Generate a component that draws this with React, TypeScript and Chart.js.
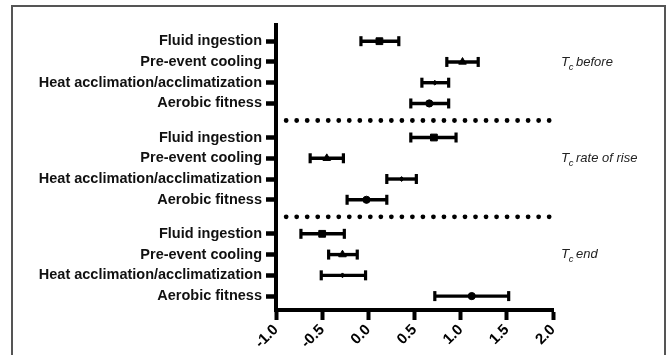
import React, { useEffect, useRef } from "react";
import { Chart, registerables } from "chart.js";

Chart.register(...registerables);

// ---- data ----
const factors = ["Fluid ingestion", "Pre-event cooling", "Heat acclimation/acclimatization", "Aerobic fitness"];
const groupNames = ["before", "rate of rise", "end"];

const meanBefore = [0.12, 1.02, 0.72, 0.66];
const lowBefore = [-0.08, 0.85, 0.58, 0.46];
const highBefore = [0.33, 1.19, 0.87, 0.87];

const meanRise = [0.71, -0.45, 0.36, -0.02];
const lowRise = [0.46, -0.63, 0.2, -0.23];
const highRise = [0.95, -0.27, 0.52, 0.2];

const meanEnd = [-0.5, -0.28, -0.28, 1.12];
const lowEnd = [-0.73, -0.43, -0.51, 0.72];
const highEnd = [-0.26, -0.12, -0.03, 1.52];

const xTicks = [-1.0, -0.5, 0.0, 0.5, 1.0, 1.5, 2.0];

// ---- layout helpers (not data) ----
const GROUP_STEP = 4.64;
const rowPos = (g: number, r: number) => g * GROUP_STEP + r;
const markerStyles = ["rect", "triangle", "rectRot", "circle"];
const markerRadius = [4.8, 4.4, 2.4, 3.6];
const FONT = "'Liberation Sans', Arial, sans-serif";

const means = [meanBefore, meanRise, meanEnd];
const lows = [lowBefore, lowRise, lowEnd];
const highs = [highBefore, highRise, highEnd];

export default function App() {
  const ref = useRef<HTMLCanvasElement | null>(null);

  useEffect(() => {
    if (!ref.current) return;
    const datasets: any[] = [];
    const tickVals: number[] = [];
    const tickLabels = new Map<number, string>();

    means.forEach((m, g) => {
      m.forEach((v, r) => {
        const y = rowPos(g, r);
        tickVals.push(y);
        tickLabels.set(Number(y.toFixed(3)), factors[r]);
        datasets.push({
          type: "line",
          data: [
            { x: lows[g][r], y },
            { x: highs[g][r], y },
          ],
          borderColor: "#000",
          backgroundColor: "#000",
          borderWidth: 3.4,
          pointStyle: "line",
          rotation: 90,
          pointRadius: 5,
          pointBorderWidth: 3.2,
          pointBorderColor: "#000",
          showLine: true,
        });
        datasets.push({
          type: "scatter",
          data: [{ x: v, y }],
          pointStyle: markerStyles[r],
          pointRadius: markerRadius[r],
          backgroundColor: "#000",
          borderColor: "#000",
          pointBorderWidth: 1,
        });
      });
    });

    // dotted separators between groups
    [0, 1].forEach((g) => {
      const y = (rowPos(g, 3) + rowPos(g + 1, 0)) / 2;
      datasets.push({
        type: "line",
        data: [
          { x: -0.89, y },
          { x: 1.97, y },
        ],
        borderColor: "#000",
        borderWidth: 4.8,
        borderDash: [0, 10.52],
        borderCapStyle: "round",
        pointRadius: 0,
        showLine: true,
      });
    });

    const sideLabels = {
      id: "sideLabels",
      beforeDraw(chart: any) {
        const ctx = chart.ctx;
        ctx.save();
        ctx.strokeStyle = "#555";
        ctx.lineWidth = 2;
        ctx.strokeRect(12, 6, 653, 400);
        ctx.restore();
      },
      afterDraw(chart: any) {
        const ctx = chart.ctx;
        const ys = chart.scales.y;
        ctx.save();
        ctx.fillStyle = "#222";
        ctx.textBaseline = "middle";
        groupNames.forEach((name, g) => {
          const y = ys.getPixelForValue(rowPos(g, 1));
          let x = 561;
          ctx.font = `italic 13.5px ${FONT}`;
          ctx.fillText("T", x, y);
          x += ctx.measureText("T").width - 0.5;
          ctx.font = `italic 9.5px ${FONT}`;
          ctx.fillText("c", x, y + 5);
          x += ctx.measureText("c").width + 2.5;
          ctx.font = `italic 13px ${FONT}`;
          ctx.fillText(name, x, y);
        });
        ctx.restore();
      },
    };

    const chart = new Chart(ref.current, {
      type: "scatter",
      data: { datasets },
      plugins: [sideLabels],
      options: {
        animation: false,
        responsive: false,
        maintainAspectRatio: false,
        layout: { padding: { top: 25, right: 114, left: 0, bottom: 0 } },
        plugins: { legend: { display: false }, tooltip: { enabled: false } },
        scales: {
          x: {
            type: "linear",
            min: -1,
            max: 2,
            afterBuildTicks: (s: any) => {
              s.ticks = xTicks.map((v) => ({ value: v }));
            },
            afterFit: (s: any) => {
              s.height = 45;
            },
            ticks: {
              callback: (v: any) => Number(v).toFixed(1),
              maxRotation: 45,
              minRotation: 45,
              color: "#000",
              font: { family: FONT, size: 15, weight: "bold" },
              padding: 1,
            },
            grid: { drawOnChartArea: false, drawTicks: true, tickLength: 10, tickWidth: 4, tickColor: "#000" },
            border: { display: true, width: 4, color: "#000" },
          },
          y: {
            type: "linear",
            reverse: true,
            min: -0.78,
            max: 12.95,
            afterBuildTicks: (s: any) => {
              s.ticks = tickVals.map((v) => ({ value: v }));
            },
            afterFit: (s: any) => {
              s.width = 276;
            },
            ticks: {
              autoSkip: false,
              callback: (v: any) => tickLabels.get(Number(Number(v).toFixed(3))) || "",
              color: "#111",
              font: { family: FONT, size: 14.5, weight: "bold" },
              padding: 4,
            },
            grid: { drawOnChartArea: false, drawTicks: true, tickLength: 10, tickWidth: 4.5, tickColor: "#000" },
            border: { display: true, width: 4, color: "#000" },
          },
        },
      } as any,
    });
    return () => chart.destroy();
  }, []);

  return (
    <div style={{ position: "fixed", left: 0, top: 0, width: 667, height: 355, background: "#fff" }}>
      <canvas ref={ref} width={667} height={355} style={{ width: 667, height: 355, display: "block" }} />
    </div>
  );
}
